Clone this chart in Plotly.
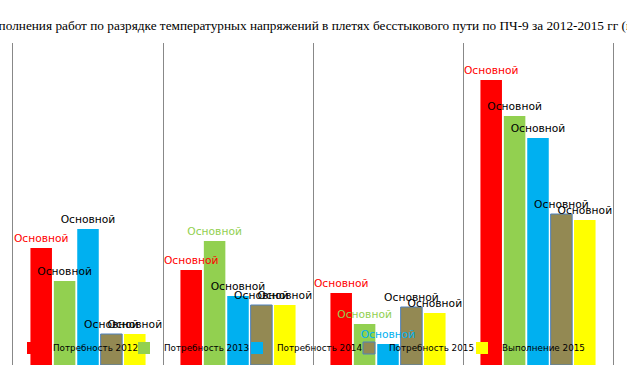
import plotly.graph_objects as go

categories = ["2012", "2013", "2014", "2015"]
series_names = ["Потребность 2012", "Потребность 2013", "Потребность 2014", "Потребность 2015", "Выполнение 2015"]
s2012 = [11.7, 9.5, 7.2, 28.5]
s2013 = [8.4, 12.4, 4.1, 24.9]
s2014 = [13.6, 6.9, 2.1, 22.7]
s2015 = [3.1, 6.0, 5.8, 15.1]
v2015 = [3.1, 6.0, 5.2, 14.5]
label = "Основной"
colors = ["#FF0000", "#92D050", "#00B0F0", "#938953", "#FFFF00"]
label_colors = [
    ["#FF0000", "#FF0000", "#FF0000", "#FF0000"],
    ["#000000", "#92D050", "#92D050", "#000000"],
    ["#000000", "#000000", "#00B0F0", "#000000"],
    ["#000000", "#000000", "#000000", "#000000"],
    ["#000000", "#000000", "#000000", "#000000"],
]
values = [s2012, s2013, s2014, s2015, v2015]
legend_text_x = [50, 161, 274, 386, 499]  # px where each legend entry's text starts

W, H = 627, 373
fig = go.Figure()
legend_ids = ["legend", "legend2", "legend3", "legend4", "legend5"]
# bars
for i, (name, vals) in enumerate(zip(series_names, values)):
    fig.add_trace(go.Bar(
        x=categories, y=vals, name=name, legend=legend_ids[i], offsetgroup=str(i),
        marker=dict(color=colors[i],
                    line=dict(color="#4F81BD" if i == 3 else colors[i], width=1 if i == 3 else 0)),
        cliponaxis=False,
    ))
# data labels drawn on top of all bars
for i, (name, vals) in enumerate(zip(series_names, values)):
    fig.add_trace(go.Bar(
        x=categories, y=vals, name=name, offsetgroup=str(i), showlegend=False,
        marker=dict(color="rgba(0,0,0,0)", line=dict(width=0)),
        text=[label] * len(vals), textposition="outside", constraintext="none",
        textfont=dict(family="DejaVu Sans", size=10.7, color=label_colors[i]),
        cliponaxis=False, hoverinfo="skip",
    ))

legend_common = dict(orientation="h", xref="container", yref="container", xanchor="left",
                     y=1 - 348 / H, yanchor="middle", bgcolor="rgba(0,0,0,0)",
                     borderwidth=0,
                     font=dict(family="DejaVu Sans", size=8.8, color="black"))
layout_legends = {}
for lid, tx in zip(legend_ids, legend_text_x):
    layout_legends[lid] = dict(legend_common, x=(tx + 3 - 40) / W)

fig.update_layout(
    width=W, height=H,
    margin=dict(l=13, r=14, t=43, b=8, autoexpand=False),
    paper_bgcolor="white", plot_bgcolor="white",
    barmode="group", bargap=0.22, bargroupgap=0.08,
    title=dict(text="Выполнения работ по разрядке температурных напряжений в плетях бесстыкового пути по ПЧ-9 за 2012-2015 гг (км)",
               x=0.4992, xanchor="center", y=0.933, yanchor="middle",
               font=dict(family="Liberation Serif", size=13.27, color="black")),
    xaxis=dict(showticklabels=False, tickson="boundaries", showgrid=True, gridcolor="#888888",
               gridwidth=1, ticks="", showline=False, zeroline=False, range=[-0.5, 3.5]),
    yaxis=dict(showticklabels=False, showgrid=False, zeroline=False, ticks="",
               showline=True, mirror=True, linecolor="#888888", linewidth=1, range=[0, 32.2]),
    showlegend=True,
    **layout_legends,
)
fig.write_html("out.html", config={"displayModeBar": False},
               post_script="document.body.style.margin='0';")
